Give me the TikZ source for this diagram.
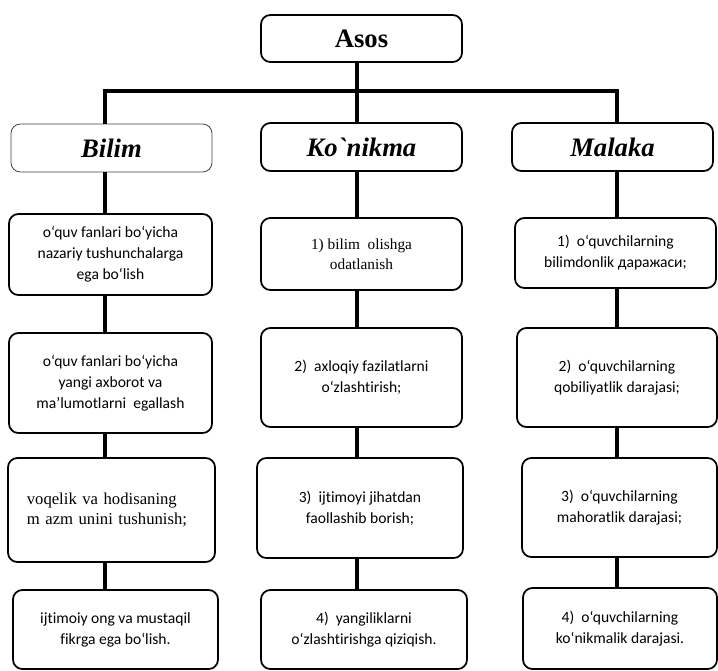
\documentclass[tikz,border=0pt]{standalone}
\usepackage{fontspec}
\setmainfont{Liberation Serif}
\newfontfamily\cfont{Carlito}[Ligatures=NoCommon]
\usetikzlibrary{calc}

\tikzset{
  box/.style={draw, line width=1.3pt, rounded corners=7pt, align=center, inner sep=2pt,
    font=\cfont\fontsize{11.7}{15.8}\selectfont},
  serifbox/.style={box, font=\rmfamily\fontsize{11.5}{15}\selectfont},
  head/.style={box, font=\bfseries\itshape\fontsize{20}{24}\selectfont},
  boxsize/.style 2 args={minimum width=#1*0.75pt, minimum height=#2*0.75pt},
  link/.style={line width=3pt}
}

\begin{document}
\begin{tikzpicture}[x=0.75pt, y=-0.75pt]
  \useasboundingbox (0,0) rectangle (718,671);

  % top and headers
  \node [head, font=\bfseries\fontsize{20}{24}\selectfont, boxsize={201}{47}] (asos) at (361.5,38.5) {Asos};
  \node [head, line width=0.6pt, draw=black!75, boxsize={201}{48}] (h1) at (111.5,148) {Bilim};
  \node [head, boxsize={201}{48}] (h2) at (361.5,147) {Ko\textasciigrave nikma};
  \node [head, boxsize={201}{48}] (h3) at (612.5,147) {Malaka};

  % Bilim column
  \node [box, boxsize={203}{81}] (b11) at (110.5,254.5) {o‘quv fanlari bo‘yicha\\nazariy tushunchalarga\\ega bo‘lish};
  \node [box, boxsize={203}{100}] (b12) at (110.5,383) {o‘quv fanlari bo‘yicha\\yangi axborot va\\ma’lumotlarni~ egallash};
  \node [serifbox, font=\rmfamily\fontsize{12.5}{15}\selectfont, align=left, boxsize={207}{104},
         text width=127pt, inner xsep=14pt] (b13) at (111.5,510) {voqelik va hodisaning\\m azm unini tushunish;};
  \node [box, boxsize={205}{79}] (b14) at (115.5,629.5) {ijtimoiy ong va mustaqil\\fikrga ega bo‘lish.};

  % Ko`nikma column
  \node [serifbox, boxsize={201}{72}] (b21) at (361.5,254) {1) bilim~ olishga\\odatlanish};
  \node [box, boxsize={201}{99}] (b22) at (361.5,377.5) {2)~~axloqiy fazilatlarni\\o‘zlashtirish;};
  \node [box, boxsize={206}{100}] (b23) at (360,508) {3)~~ijtimoyi jihatdan\\faollashib borish;};
  \node [box, boxsize={206}{79}] (b24) at (364,629.5) {4)~~yangiliklarni\\o‘zlashtirishga qiziqish.};

  % Malaka column
  \node [box, boxsize={201}{70}] (b31) at (615.5,253) {1)~~o‘quvchilarning\\bilimdonlik даражаси;};
  \node [box, boxsize={200}{99}] (b32) at (617,377.5) {2)~~o‘quvchilarning\\qobiliyatlik darajasi;};
  \node [box, boxsize={195}{99}] (b33) at (619.5,507.5) {3)~~o‘quvchilarning\\mahoratlik darajasi;};
  \node [box, boxsize={194}{81}] (b34) at (620,628.5) {4)~~o‘quvchilarning\\ko‘nikmalik darajasi.};

  % connectors
  \coordinate (x1) at (105,0);
  \coordinate (x2) at (357,0);
  \coordinate (x3) at (617,0);
  \coordinate (j) at (357,91);
  \draw [link] (asos.south -| x2) -- (h2.north -| x2);
  \draw [link] (h1.north -| x1) |- (j) -| (h3.north -| x3);
  \foreach \c in {1,2,3} {
    \draw [link] (h\c.south -| x\c) -- (b\c1.north -| x\c);
    \draw [link] (b\c1.south -| x\c) -- (b\c2.north -| x\c);
    \draw [link] (b\c2.south -| x\c) -- (b\c3.north -| x\c);
    \draw [link] (b\c3.south -| x\c) -- (b\c4.north -| x\c);
  }
\end{tikzpicture}
\end{document}
